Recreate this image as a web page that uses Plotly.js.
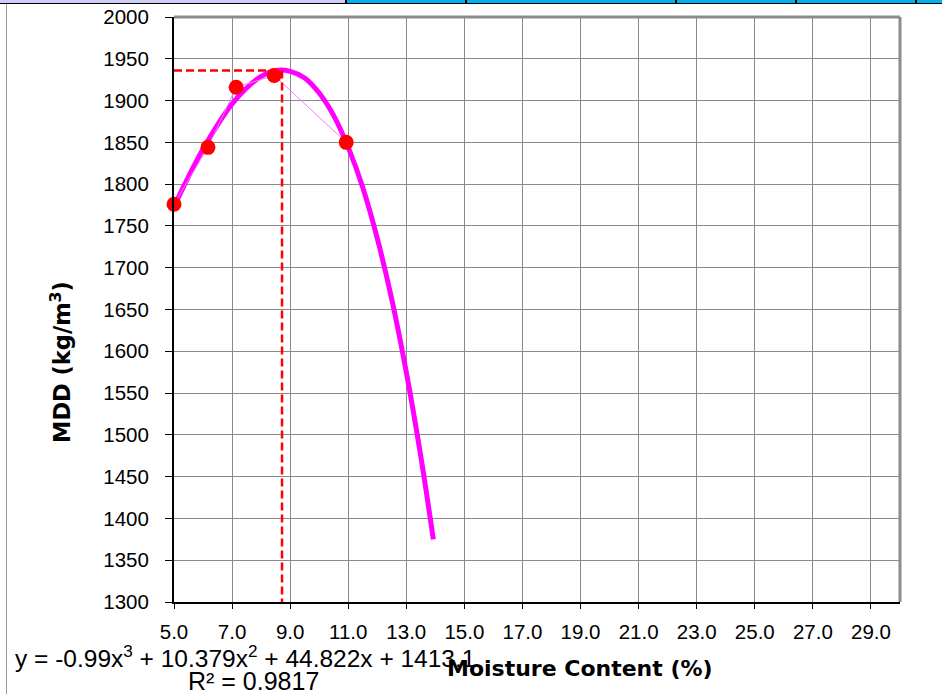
<!DOCTYPE html>
<html>
<head>
<meta charset="utf-8">
<script src="https://cdn.plot.ly/plotly-3.0.1.min.js"></script>
<style>
html,body{margin:0;padding:0;background:#fff;}
#chart{width:942px;height:694px;}
</style>
</head>
<body>
<div id="chart"></div>
<script>
// Measured data points (moisture content %, MDD kg/m3)
const moisture = [5.0, 6.17, 7.14, 8.45, 10.93];
const mdd = [1776, 1844, 1916, 1930, 1850];

// Polynomial trendline
const trendX = [5.0, 5.5, 6.0, 6.5, 7.0, 7.5, 8.0, 8.5, 9.0, 9.5, 10.0, 10.5, 11.0, 11.5, 12.0, 12.5, 13.0, 13.5, 13.93];
const trendY = [1773, 1809, 1842, 1871, 1896, 1915, 1929, 1936, 1935, 1927, 1909, 1882, 1844, 1796, 1735, 1662, 1575, 1474, 1375];

// Optimum moisture content / maximum dry density
const omc = 8.72;
const maxDD = 1936;

const xTicks = [5, 7, 9, 11, 13, 15, 17, 19, 21, 23, 25, 27, 29];
const xTickText = ["5.0", "7.0", "9.0", "11.0", "13.0", "15.0", "17.0", "19.0", "21.0", "23.0", "25.0", "27.0", "29.0"];
const yTicks = [1300, 1350, 1400, 1450, 1500, 1550, 1600, 1650, 1700, 1750, 1800, 1850, 1900, 1950, 2000];

const equationText = "y = -0.99x<sup>3</sup> + 10.379x<sup>2</sup> + 44.822x + 1413.1";
const r2Text = "R² = 0.9817";
const xTitle = "Moisture Content (%)";
const yTitle = "MDD (kg/m<sup>3</sup>)";

// layout geometry (pixels)
const W = 942, H = 694, L = 174, R = 900, T = 17, B = 602;
const px = v => (v - L) / (R - L);
const py = v => (B - v) / (B - T);

const traces = [
  {
    x: trendX, y: trendY, type: 'scatter', mode: 'lines',
    line: {color: '#ff00ff', width: 5, shape: 'spline'},
    hoverinfo: 'skip', cliponaxis: false
  },
  {
    x: moisture, y: mdd, type: 'scatter', mode: 'lines+markers',
    line: {color: '#f080f0', width: 1},
    marker: {color: '#ff0000', size: 15},
    cliponaxis: false
  },
  {
    x: [trendX[0], omc], y: [maxDD, maxDD], type: 'scatter', mode: 'lines',
    line: {color: '#ff0000', width: 2.5, dash: '8px,4px'}, cliponaxis: false
  },
  {
    x: [omc, omc], y: [maxDD, 1300], type: 'scatter', mode: 'lines',
    line: {color: '#ff0000', width: 2.5, dash: '8px,4px'}, cliponaxis: false
  }
];

const tickFont = {family: 'Liberation Sans, Arial, sans-serif', size: 20.5, color: '#000'};

const layout = {
  width: W, height: H,
  margin: {l: L, r: W - R, t: T, b: H - B, pad: 0},
  paper_bgcolor: '#ffffff', plot_bgcolor: '#ffffff',
  showlegend: false,
  xaxis: {
    range: [5, 30], tickvals: xTicks, ticktext: xTickText,
    showgrid: true, gridcolor: '#8a8a8a', gridwidth: 1,
    zeroline: false, showline: true, linecolor: '#000', linewidth: 2,
    ticks: 'outside', ticklen: 5, tickcolor: '#000', tickwidth: 1,
    tickfont: tickFont, ticklabelstandoff: 5
  },
  yaxis: {
    range: [1300, 2000], tickvals: yTicks,
    showgrid: true, gridcolor: '#8a8a8a', gridwidth: 1,
    zeroline: false, showline: true, linecolor: '#000', linewidth: 2,
    ticks: 'outside', ticklen: 7, tickcolor: '#000', tickwidth: 1,
    tickfont: tickFont, ticklabelstandoff: 12
  },
  shapes: [
    // top & right plot border (gray)
    {type: 'line', xref: 'paper', yref: 'paper', x0: 0, x1: 1, y0: 1, y1: 1, line: {color: '#8c8c8c', width: 3}},
    {type: 'line', xref: 'paper', yref: 'paper', x0: 1, x1: 1, y0: 0, y1: 1, line: {color: '#8c8c8c', width: 3}},
    // spreadsheet strip at top
    {type: 'rect', xref: 'paper', yref: 'paper', x0: px(0), x1: px(346), y0: py(0), y1: py(3), fillcolor: '#ccccf5', line: {width: 0}},
    {type: 'rect', xref: 'paper', yref: 'paper', x0: px(346), x1: px(942), y0: py(0), y1: py(3), fillcolor: '#00b0f0', line: {width: 0}},
    {type: 'line', xref: 'paper', yref: 'paper', x0: px(0), x1: px(942), y0: py(3.5), y1: py(3.5), line: {color: '#000', width: 1}},
    {type: 'line', xref: 'paper', yref: 'paper', x0: px(346), x1: px(346), y0: py(0), y1: py(3.5), line: {color: '#000', width: 2}},
    {type: 'line', xref: 'paper', yref: 'paper', x0: px(466), x1: px(466), y0: py(0), y1: py(3.5), line: {color: '#000', width: 2}},
    {type: 'line', xref: 'paper', yref: 'paper', x0: px(676), x1: px(676), y0: py(0), y1: py(3.5), line: {color: '#000', width: 2}},
    {type: 'line', xref: 'paper', yref: 'paper', x0: px(796), x1: px(796), y0: py(0), y1: py(3.5), line: {color: '#000', width: 2}},
    {type: 'line', xref: 'paper', yref: 'paper', x0: px(916), x1: px(916), y0: py(0), y1: py(3.5), line: {color: '#000', width: 2}},
    // chart area left border
    {type: 'line', xref: 'paper', yref: 'paper', x0: px(6.5), x1: px(6.5), y0: py(4), y1: py(694), line: {color: '#9a9a9a', width: 1}}
  ],
  annotations: [
    {xref: 'paper', yref: 'paper', x: px(13), y: py(656), xanchor: 'left', yanchor: 'middle', showarrow: false,
     text: equationText, font: {family: 'Liberation Sans, Arial, sans-serif', size: 24.5, color: '#000'}},
    {xref: 'paper', yref: 'paper', x: px(186), y: py(681), xanchor: 'left', yanchor: 'middle', showarrow: false,
     text: r2Text, font: {family: 'Liberation Sans, Arial, sans-serif', size: 25, color: '#000'}},
    {xref: 'paper', yref: 'paper', x: px(580), y: py(668), xanchor: 'center', yanchor: 'middle', showarrow: false,
     text: '<b>' + xTitle + '</b>', font: {family: 'DejaVu Sans, sans-serif', size: 22, color: '#000'}},
    {xref: 'paper', yref: 'paper', x: px(60), y: py(362), xanchor: 'center', yanchor: 'middle', showarrow: false, textangle: -90,
     text: '<b>' + yTitle + '</b>', font: {family: 'DejaVu Sans, sans-serif', size: 22.5, color: '#000'}}
  ]
};

Plotly.newPlot('chart', traces, layout, {displayModeBar: false, staticPlot: true});
</script>
</body>
</html>
